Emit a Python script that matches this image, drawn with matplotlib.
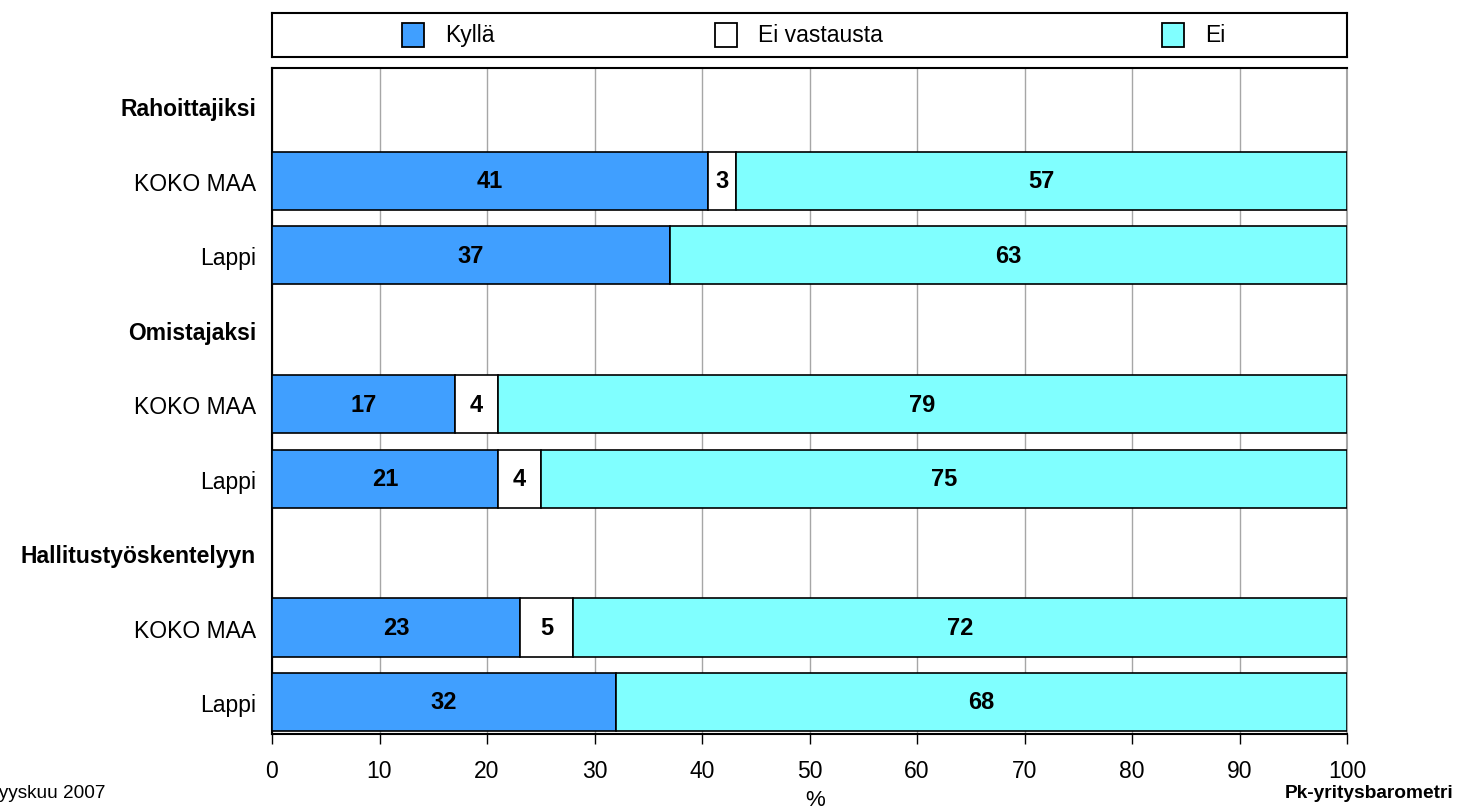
import matplotlib as mpl
import matplotlib.pyplot as plt
import numpy as np

plt.rcParams['font.family'] = ['Liberation Sans', 'DejaVu Sans']
plt.rcParams['font.size'] = 16

# Data
row_labels = ['Rahoittajiksi', 'KOKO MAA', 'Lappi',
              'Omistajaksi', 'KOKO MAA', 'Lappi',
              'Hallitustyöskentelyyn', 'KOKO MAA', 'Lappi']
header_rows = [0, 3, 6]
bar_rows = [1, 2, 4, 5, 7, 8]
kylla = [40.6, 37.0, 17.0, 21.0, 23.1, 32.0]
ei_vastausta = [2.6, 0.0, 4.0, 4.0, 4.9, 0.0]
ei = [56.8, 63.0, 79.0, 75.0, 72.0, 68.0]

series_names = ['Kyllä', 'Ei vastausta', 'Ei']
series_colors = ['#409FFF', '#FFFFFF', '#80FFFF']
series_data = [kylla, ei_vastausta, ei]

W, H = 1458, 812
fig = plt.figure(figsize=(W / 100, H / 100), dpi=100)
ax = fig.add_axes([272 / W, 1 - 735 / H, (1347 - 272) / W, (735 - 69) / H])

y = np.array(bar_rows)
left = np.zeros(len(bar_rows))
for name, col, vals in zip(series_names, series_colors, series_data):
    vals = np.array(vals)
    ax.barh(y, vals, left=left, height=0.78, color=col, edgecolor='black',
            linewidth=1.2, zorder=3)
    for yi, l, v in zip(y, left, vals):
        if v > 0:
            ax.text(l + v / 2, yi, '%d' % round(v), ha='center', va='center',
                    fontsize=17, fontweight='bold', zorder=4)
    left = left + vals

ax.set_xlim(0, 100)
ax.set_ylim(8.43, -0.515)
ax.set_xticks(np.arange(0, 101, 10))
ax.set_yticks(np.arange(len(row_labels)))
ax.set_yticklabels(row_labels, fontsize=16.5)
for i, t in enumerate(ax.get_yticklabels()):
    if i in header_rows:
        t.set_fontweight('bold')
ax.tick_params(axis='y', length=0, pad=11.5)
ax.tick_params(axis='x', length=7, width=1, direction='out', pad=11, labelsize=16.5)
ax.xaxis.grid(True, color='#A6A6A6', linewidth=1, zorder=0)
ax.set_axisbelow(True)
for s in ['left', 'bottom', 'top']:
    ax.spines[s].set_linewidth(1.5)
    ax.spines[s].set_color('black')
ax.spines['right'].set_color('#A6A6A6')
ax.spines['right'].set_linewidth(1.5)

# Legend box
lax = fig.add_axes([272 / W, 1 - 58 / H, (1347 - 272) / W, 44 / H])
lax.set_xlim(272, 1347)
lax.set_ylim(58, 14)
lax.set_xticks([])
lax.set_yticks([])
for s in lax.spines.values():
    s.set_linewidth(1.5)
leg_x = [413, 726, 1173]
for name, col, lx in zip(series_names, series_colors, leg_x):
    lax.add_patch(mpl.patches.Rectangle((lx - 11, 23.5), 22, 24,
                                        facecolor=col, edgecolor='black', linewidth=1.3))
    lax.text(lx + 32, 35.5, name, va='center', ha='left', fontsize=16.5)

fig.text(815 / W, 1 - 801 / H, '%', ha='center', va='center', fontsize=16)
fig.text(1453 / W, 1 - 794 / H, 'Pk-yritysbarometri', ha='right', va='center',
         fontsize=13.8, fontweight='bold')
fig.text(-14 / W, 1 - 794 / H, 'Syyskuu 2007', ha='left', va='center', fontsize=13.7)

plt.savefig('out.png', dpi=100)
